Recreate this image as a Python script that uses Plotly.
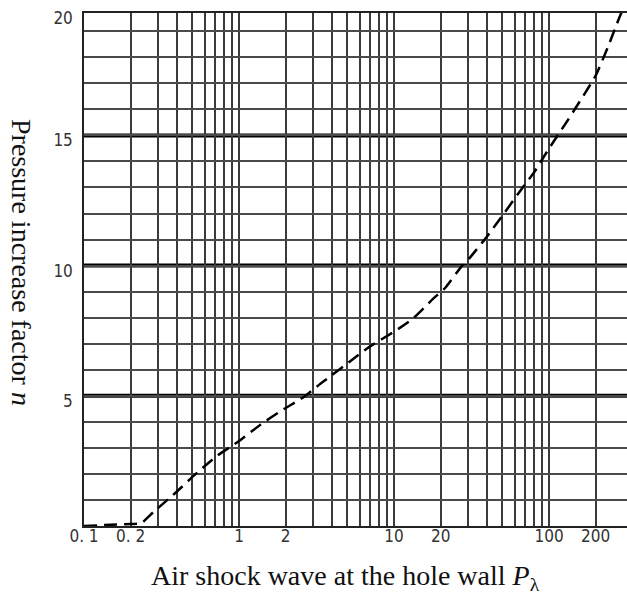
import plotly.graph_objects as go

# ---- data ----
p_lambda = [0.1, 0.2, 0.233, 0.281, 0.385, 0.526, 0.72, 1.0, 1.38, 1.96, 2.63, 3.28, 3.69,
            5.17, 6.93, 10.0, 13.2, 17.9, 21.2, 27.5, 30.5, 39.6, 50.6, 64.8, 80.5, 93.0,
            116.0, 132.0, 200.0, 240.0, 283.0, 300.0]
n_factor = [0.0, 0.08, 0.1, 0.54, 1.25, 2.0, 2.69, 3.26, 3.9, 4.5, 4.96, 5.42, 5.65,
            6.31, 6.88, 7.46, 7.96, 8.73, 9.12, 10.0, 10.27, 11.1, 11.96, 12.85, 13.6, 14.2,
            15.08, 15.58, 17.3, 18.4, 19.5, 19.85]

x_grid_vals = [0.1, 0.2, 0.3, 0.4, 0.5, 0.6, 0.7, 0.8, 0.9,
               1, 2, 3, 4, 5, 6, 7, 8, 9,
               10, 20, 30, 40, 50, 60, 70, 80, 90,
               100, 200]
x_tick_labels = {0.1: "0. 1", 0.2: "0. 2", 1: "1", 2: "2", 10: "10", 20: "20", 100: "100", 200: "200"}

y_grid_vals = list(range(1, 20))
y_tick_labels = {5: "5", 10: "10", 15: "15"}
y_top_label = "20"
thick_levels = [5, 10, 15]

# ---- figure ----
W, H = 627, 594
L, R, T, B = 84, 0, 13, 68
Y_TOP = 19.7

tick_font = dict(family="DejaVu Sans Condensed, Liberation Sans Narrow, Arial Narrow, sans-serif",
                 size=17, color="#333333")
title_font = dict(family="Liberation Serif, Times New Roman, serif", size=28, color="#111111")

fig = go.Figure()
fig.add_trace(go.Scatter(
    x=p_lambda, y=n_factor, mode="lines",
    line=dict(color="black", width=2.5, dash="13px,7px", shape="spline", smoothing=0.5),
    showlegend=False, hoverinfo="skip", cliponaxis=True,
))

for lvl in thick_levels:
    fig.add_shape(type="line", xref="paper", x0=0, x1=1, yref="y", y0=lvl, y1=lvl,
                  line=dict(color="black", width=4), layer="below")

fig.update_xaxes(
    type="log", range=[-1, 2.503],
    tickvals=x_grid_vals,
    ticktext=[x_tick_labels.get(v, "") for v in x_grid_vals],
    showgrid=True, gridcolor="#3a3a3a", gridwidth=1.5,
    showline=True, linecolor="#222222", linewidth=1.5, mirror=True,
    ticks="", tickfont=tick_font, ticklabelstandoff=-6,
    zeroline=False, automargin=False,
)
fig.update_yaxes(
    range=[0, Y_TOP + 0.001],
    tickvals=y_grid_vals + [Y_TOP],
    ticktext=[y_tick_labels.get(v, "") for v in y_grid_vals] + [y_top_label],
    showgrid=True, gridcolor="#4a4a4a", gridwidth=1.5,
    showline=True, linecolor="#222222", linewidth=1.5,
    ticks="", tickfont=tick_font, ticklabelstandoff=6, ticklabelshift=5,
    zeroline=False, automargin=False,
)

fig.add_annotation(
    text="Pressure increase factor <i>n</i>", textangle=90,
    xref="paper", x=0, xshift=-62, xanchor="center",
    yref="paper", y=(526 - 262) / 513, yanchor="middle",
    showarrow=False, font=title_font,
)
fig.add_annotation(
    text="Air shock wave at the hole wall <i>P</i><sub>λ</sub>",
    xref="paper", x=(345.5 - L) / (W - L), xanchor="center",
    yref="paper", y=(526 - 577) / 513, yanchor="middle",
    showarrow=False, font=title_font,
)

fig.update_layout(
    width=W, height=H,
    margin=dict(l=L, r=R, t=T, b=B, autoexpand=False),
    paper_bgcolor="white", plot_bgcolor="white",
    showlegend=False,
)

fig.write_html("out.html", config={"displayModeBar": False},
               post_script="document.body.style.margin='0';document.body.style.overflow='hidden';")
